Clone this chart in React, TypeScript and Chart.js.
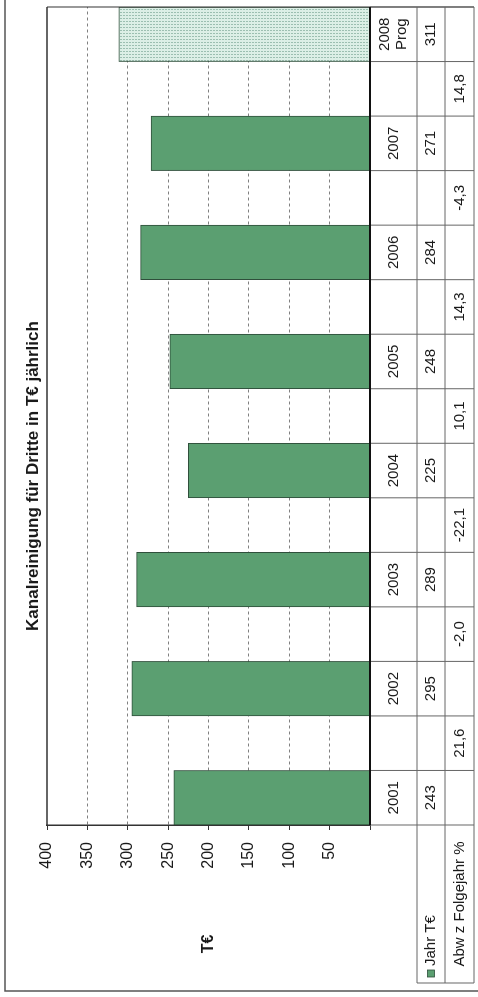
import { useEffect, useRef } from "react";
import { Chart, registerables } from "chart.js";

Chart.register(...registerables);

const years = ["2001", "2002", "2003", "2004", "2005", "2006", "2007", "2008"];
const yearLabels = ["2001", "2002", "2003", "2004", "2005", "2006", "2007", "2008\nProg"];
const jahrWerte = [243, 295, 289, 225, 248, 284, 271, 311];
// Abweichung zum Folgejahr, steht zwischen den Jahren
const abwFolgejahr = [21.6, -2.0, -22.1, 10.1, 14.3, -4.3, 14.8];
const rowNames = ["Jahr T€", "Abw z Folgejahr %"];
const title = "Kanalreinigung für Dritte in T€ jährlich";
const yTitle = "T€";

// jedes Jahr bekommt eine Spalte, dazwischen eine leere Spalte fuer die Abweichung
const slotLabels: string[] = [];
const slotValues: (number | null)[] = [];
years.forEach((y, i) => {
  slotLabels.push(y);
  slotValues.push(jahrWerte[i]);
  if (i < years.length - 1) {
    slotLabels.push("");
    slotValues.push(null);
  }
});

const FONT = '"Liberation Sans", Arial, sans-serif';
const GREEN = "#5b9f71";
const GREEN_BORDER = "#2f4f3b";

const makePattern = () => {
  const c = document.createElement("canvas");
  c.width = 3;
  c.height = 3;
  const g = c.getContext("2d")!;
  g.fillStyle = "#dcefe6";
  g.fillRect(0, 0, 3, 3);
  g.fillStyle = "#9cbfb1";
  g.fillRect(0, 0, 1, 2);
  return g.createPattern(c, "repeat");
};

const fmt = (v: number) => v.toFixed(1).replace(".", ",");

const tablePlugin = {
  id: "dataTable",
  afterDraw(chart: any) {
    const { ctx, chartArea: a, scales } = chart;
    const x = scales.x;
    const half = (x.getPixelForValue(1) - x.getPixelForValue(0)) / 2;
    const r0 = a.bottom;
    const r1 = r0 + 47;
    const r2 = r1 + 28;
    const r3 = r2 + 29;
    const headLeft = 14;

    ctx.save();

    // aeusserer Rahmen
    ctx.strokeStyle = "#555";
    ctx.lineWidth = 1.5;
    ctx.strokeRect(6, 5, 1200, 480);

    // Rahmen der Zeichenflaeche
    ctx.strokeStyle = "#333";
    ctx.lineWidth = 1.5;
    ctx.beginPath();
    ctx.moveTo(a.left, a.top);
    ctx.lineTo(a.right, a.top);
    ctx.stroke();
    ctx.lineWidth = 1;
    ctx.beginPath();
    ctx.moveTo(a.right, a.top);
    ctx.lineTo(a.right, r3);
    ctx.stroke();

    // Tabellenlinien
    ctx.strokeStyle = "#666";
    ctx.lineWidth = 1;
    ctx.beginPath();
    for (let i = 0; i <= slotLabels.length; i++) {
      const px = i < slotLabels.length ? x.getPixelForValue(i) - half : a.right;
      ctx.moveTo(px, r0);
      ctx.lineTo(px, r3);
    }
    ctx.moveTo(headLeft, r1);
    ctx.lineTo(a.right, r1);
    ctx.moveTo(headLeft, r2);
    ctx.lineTo(a.right, r2);
    ctx.moveTo(headLeft, r3);
    ctx.lineTo(a.right, r3);
    ctx.moveTo(headLeft, r1);
    ctx.lineTo(headLeft, r3);
    ctx.stroke();

    // Nulllinie
    ctx.strokeStyle = "#111";
    ctx.lineWidth = 2;
    ctx.beginPath();
    ctx.moveTo(a.left, a.bottom);
    ctx.lineTo(a.right, a.bottom);
    ctx.stroke();

    // Texte der Tabelle
    ctx.fillStyle = "#1a1a1a";
    ctx.font = `15px ${FONT}`;
    ctx.textAlign = "center";
    ctx.textBaseline = "middle";
    years.forEach((_, i) => {
      const px = x.getPixelForValue(i * 2);
      const lines = yearLabels[i].split("\n");
      const mid = (r0 + r1) / 2;
      lines.forEach((t, k) => {
        ctx.fillText(t, px, mid + (k - (lines.length - 1) / 2) * 17);
      });
      ctx.fillText(String(jahrWerte[i]), px, (r1 + r2) / 2);
    });
    abwFolgejahr.forEach((v, i) => {
      const px = x.getPixelForValue(i * 2 + 1);
      ctx.fillText(fmt(v), px, (r2 + r3) / 2);
    });

    ctx.fillText(rowNames[1], (headLeft + a.left) / 2, (r2 + r3) / 2);
    ctx.fillStyle = GREEN;
    ctx.strokeStyle = GREEN_BORDER;
    ctx.lineWidth = 0.8;
    ctx.fillRect(20, (r1 + r2) / 2 - 3.5, 7, 7);
    ctx.strokeRect(20, (r1 + r2) / 2 - 3.5, 7, 7);
    ctx.fillStyle = "#1a1a1a";
    ctx.textAlign = "left";
    ctx.fillText(rowNames[0], 31, (r1 + r2) / 2);

    // Titel und Achsentitel
    ctx.textAlign = "center";
    ctx.font = `bold 17px ${FONT}`;
    ctx.fillText(title, 521, 33);
    ctx.font = `bold 16px ${FONT}`;
    ctx.fillText(yTitle, 53, (a.top + a.bottom) / 2);

    ctx.restore();
  },
};

export default function App() {
  const ref = useRef<HTMLCanvasElement>(null);

  useEffect(() => {
    if (!ref.current) return;
    const pattern = makePattern();
    const chart = new Chart(ref.current, {
      type: "bar",
      data: {
        labels: slotLabels,
        datasets: [
          {
            label: rowNames[0],
            data: slotValues,
            backgroundColor: (c: any) => (c.dataIndex === slotValues.length - 1 ? pattern : GREEN),
            borderColor: GREEN_BORDER,
            borderWidth: 1,
            barPercentage: 1,
            categoryPercentage: 1,
          },
        ],
      },
      options: {
        responsive: false,
        animation: false,
        layout: {
          padding: { left: 0, right: 7, top: 47, bottom: 108 },
        },
        scales: {
          x: {
            display: false,
          },
          y: {
            min: 0,
            max: 400,
            afterFit: (scale: any) => {
              scale.width = 172;
            },
            ticks: {
              stepSize: 50,
              padding: 12,
              color: "#1a1a1a",
              font: { family: FONT, size: 16 },
              callback: (v: any) => (v === 0 ? "" : String(v)),
            },
            grid: {
              color: (c: any) =>
                c.tick && (c.tick.value === 0 || c.tick.value === 400) ? "rgba(0,0,0,0)" : "#808080",
              lineWidth: 1,
              tickLength: 5,
              tickColor: "#333",
            },
            border: {
              color: "#333",
              width: 1.5,
              dash: [3, 3],
            },
          },
        },
        plugins: {
          legend: { display: false },
          tooltip: { enabled: false },
          title: { display: false },
        },
      },
      plugins: [tablePlugin],
    });

    return () => {
      chart.destroy();
    };
  }, []);

  return (
    <div
      style={{
        position: "absolute",
        left: 0,
        top: 0,
        width: 478,
        height: 997,
        overflow: "hidden",
        background: "#fff",
      }}
    >
      <div
        style={{
          position: "absolute",
          left: 0,
          top: 0,
          width: 997,
          height: 478,
          transformOrigin: "0 0",
          transform: "rotate(-90deg) translate(-997px, 0)",
        }}
      >
        <canvas ref={ref} width={997} height={478} style={{ display: "block" }} />
      </div>
    </div>
  );
}
